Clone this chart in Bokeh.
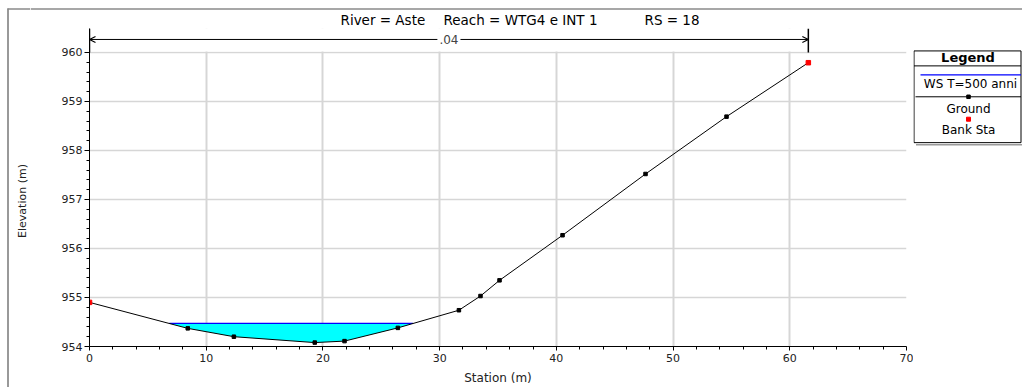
import math
from bokeh.plotting import figure
from bokeh.layouts import column, row
from bokeh.models import Range1d, FixedTicker, Label, Arrow, OpenHead
from bokeh.core.properties import value
from bokeh.embed import file_html
from bokeh.resources import INLINE

# Cross section RS 18 - River Aste, Reach WTG4 e INT 1
station = [0.0, 8.42, 12.37, 19.30, 21.85, 26.42, 31.65, 33.50, 35.13, 40.53, 47.64, 54.58, 61.59]
elevation = [954.90, 954.37, 954.20, 954.08, 954.11, 954.38, 954.74, 955.03, 955.35, 956.27, 957.52, 958.69, 959.79]
bank_station = [0.0, 61.59]
bank_elevation = [954.90, 959.79]
ws_elevation = 954.47          # WS T=500 anni
mannings_n = ".04"
x_ticks = [0, 10, 20, 30, 40, 50, 60, 70]
y_ticks = [954, 955, 956, 957, 958, 959, 960]
title_parts = ["River = Aste", "Reach = WTG4 e INT 1", "RS = 18"]
legend_labels = ["WS T=500 anni", "Ground", "Bank Sta"]

FONT = "DejaVu Sans"
W, H = 1022, 387
TOP = 28            # title strip height
LEFT = 30           # left strip width (border + y label)
LEG = 109           # legend panel width
FL, FR, FT, FB = 89, 906, 52, 347     # page position of the 0..70 / 954..960 box


def px_y(py):
    return y_ticks[0] + (FB - py) * (y_ticks[-1] - y_ticks[0]) / (FB - FT)


def strip(width, height, x0, x1, y_bottom, y_top, **borders):
    f = figure(width=width, height=height, output_backend="svg", toolbar_location=None,
               x_range=Range1d(x0, x1), y_range=Range1d(y_bottom, y_top),
               x_axis_type=None, y_axis_type=None, min_border=0, title=None, **borders)
    f.outline_line_color = None
    f.background_fill_color = "white"
    f.border_fill_color = "white"
    return f


# ---------------- left strip: page border and y label ----------------
ls = strip(LEFT, H, 0, LEFT, H, 0)
ls.segment(x0=[7.5], y0=[8], x1=[7.5], y1=[H], line_color="#555555", line_width=1.2)
ls.segment(x0=[7], y0=[8.5], x1=[LEFT], y1=[8.5], line_color="#8a8a8a", line_width=1.5)
ls.text(x=[22], y=[(FT + FB) / 2 + 1], text=["Elevation (m)"], angle=math.pi / 2,
        text_font=value(FONT), text_font_size="11px", text_color="#222222",
        text_align="center", text_baseline="middle")

# ---------------- title strip ----------------
tf = strip(W - LEFT, TOP, LEFT, W, TOP, 0)
tf.segment(x0=[LEFT], y0=[8.5], x1=[W], y1=[8.5], line_color="#8a8a8a", line_width=1.5)
tf.text(x=[340, 443, 644], y=[19.5, 19.5, 19.5], text=title_parts,
        text_font=value(FONT), text_font_size="13.5px", text_color="black",
        text_align="left", text_baseline="middle")

# ---------------- main plot ----------------
y_top = px_y(TOP)
p = figure(width=W - LEFT - LEG, height=H - TOP, output_backend="svg", toolbar_location=None,
           x_range=Range1d(x_ticks[0], x_ticks[-1]), y_range=Range1d(y_ticks[0], y_top),
           min_border_left=FL - LEFT, min_border_right=(W - LEG) - FR,
           min_border_top=0, min_border_bottom=H - FB,
           x_axis_label="Station (m)", title=None)
p.outline_line_color = None
p.background_fill_color = "white"
p.border_fill_color = "white"

x_minor = [t + 2 * k for t in x_ticks[:-1] for k in range(1, 5)]
y_minor = [round(t + 0.2 * k, 1) for t in y_ticks[:-1] for k in range(1, 5)]
p.xaxis.ticker = FixedTicker(ticks=x_ticks, minor_ticks=x_minor)
p.yaxis.ticker = FixedTicker(ticks=y_ticks, minor_ticks=y_minor)
for ax in (p.xaxis[0], p.yaxis[0]):
    ax.axis_line_color = "black"
    ax.major_tick_line_color = "black"
    ax.minor_tick_line_color = "black"
    ax.major_tick_in = 0
    ax.major_tick_out = 5
    ax.minor_tick_in = 0
    ax.minor_tick_out = 3
    ax.major_label_text_font = FONT
    ax.major_label_text_font_size = "11px"
    ax.major_label_text_color = "#222222"
p.xaxis.major_tick_out = 4
p.xaxis.major_label_standoff = 3
p.yaxis.major_label_standoff = 2
p.xaxis.axis_label_text_font = FONT
p.xaxis.axis_label_text_font_style = "normal"
p.xaxis.axis_label_text_font_size = "12px"
p.xaxis.axis_label_text_color = "#222222"
p.xaxis.axis_label_standoff = 6

p.xgrid.grid_line_color = "#d6d6d6"
p.ygrid.grid_line_color = "#d6d6d6"
p.xgrid.grid_line_width = 2
p.ygrid.grid_line_width = 1.5

# keep the grid inside the 954..960 box; the band above holds the n-value marks
p.quad(left=x_ticks[0], right=x_ticks[-1], bottom=y_ticks[-1] + 0.018, top=y_top + 0.05,
       fill_color="white", line_color=None)
p.segment(x0=bank_station, y0=[y_ticks[-1]] * 2, x1=bank_station, y1=[y_top] * 2,
          line_color="black", line_width=1.5)
y_n = px_y(39)
p.add_layout(Arrow(start=OpenHead(size=6, line_width=1.2), end=OpenHead(size=6, line_width=1.2),
                   x_start=bank_station[0], y_start=y_n, x_end=bank_station[1], y_end=y_n,
                   line_color="black", line_width=1))
p.add_layout(Label(x=(bank_station[0] + bank_station[1]) / 2, y=y_n, text=mannings_n,
                   text_font=FONT, text_font_size="12px", text_align="center",
                   text_baseline="middle", background_fill_color="white", padding=2))

# water area below the water surface
wx, wy = [], []
for i in range(len(station) - 1):
    xa, ya, xb, yb = station[i], elevation[i], station[i + 1], elevation[i + 1]
    if (ya - ws_elevation) * (yb - ws_elevation) < 0:
        wx.append(xa + (ws_elevation - ya) / (yb - ya) * (xb - xa))
        wy.append(ws_elevation)
    if yb < ws_elevation:
        wx.append(xb)
        wy.append(yb)
p.patch(wx, wy, fill_color="#00ffff", line_color=None)
p.line([wx[0], wx[-1]], [ws_elevation, ws_elevation], line_color="#0000ff", line_width=1.2)

# ground profile and bank stations
p.line(station, elevation, line_color="black", line_width=1)
p.scatter(station[1:-1], elevation[1:-1], marker="square", size=3.5,
          fill_color="black", line_color="black")
p.scatter(bank_station, bank_elevation, marker="square", size=4.5,
          fill_color="#ff0000", line_color="#ff0000")

# ---------------- legend panel (same vertical frame as the plot) ----------------
LX0 = W - LEG
lf = strip(LEG, H - TOP, LX0, W, FB, TOP, min_border_bottom=H - FB)
BL, BR, BT, BB = 913.5, 1020.5, 50.5, 142.5
lf.segment(x0=[BL, BL, BL, BR, BL], y0=[BT, BB, BT, BT, 65.5],
           x1=[BR, BR, BL, BR, BR], y1=[BT, BB, BB, BB, 65.5],
           line_color="black", line_width=1)
lf.segment(x0=[BL + 2], y0=[BB + 2], x1=[W], y1=[BB + 2], line_color="#9a9a9a", line_width=1.5)
lf.text(x=[967.5], y=[57.5], text=["Legend"], text_font=value(FONT), text_font_size="13px",
        text_font_style="bold", text_align="center", text_baseline="middle", text_color="black")
lf.segment(x0=[920], y0=[74.5], x1=[BR], y1=[74.5], line_color="#0000ff", line_width=1.2)
lf.segment(x0=[915], y0=[96.5], x1=[BR], y1=[96.5], line_color="black", line_width=1)
lf.scatter(x=[968], y=[96.5], marker="square", size=3.5, fill_color="black", line_color="black")
lf.scatter(x=[968], y=[119], marker="square", size=4, fill_color="#ff0000", line_color="#ff0000")
lf.text(x=[970, 968, 968], y=[83.5, 108.5, 129.5], text=legend_labels,
        text_font=value(FONT), text_font_size="12px", text_align="center",
        text_baseline="middle", text_color="black")

layout = row(ls, column(tf, row(p, lf, spacing=0), spacing=0), spacing=0)
open("out.html", "w").write(file_html(layout, INLINE))
